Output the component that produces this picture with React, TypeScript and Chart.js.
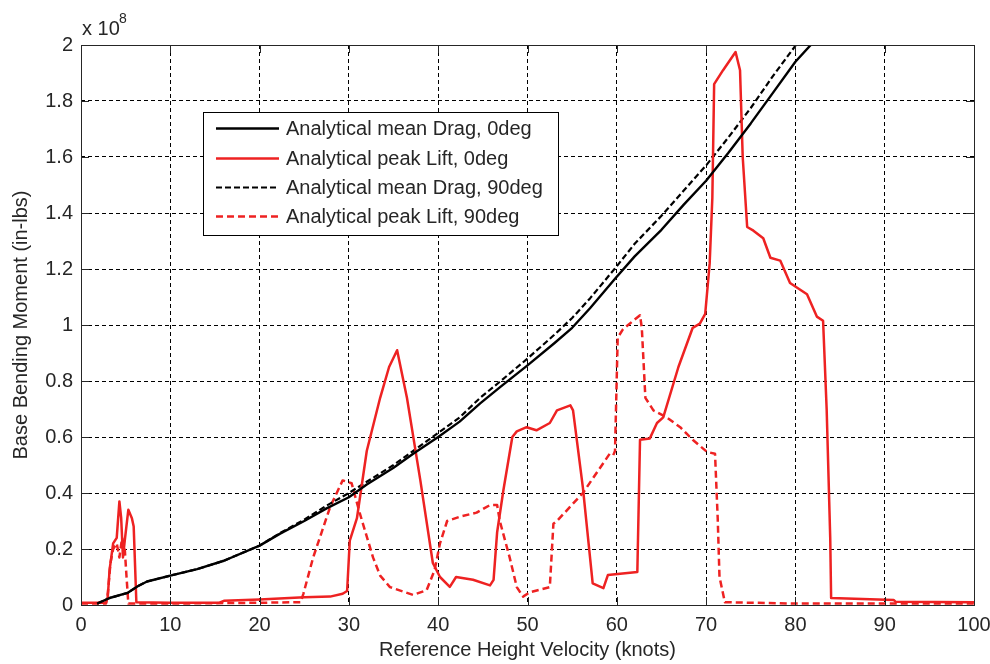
import React, { useEffect, useRef } from 'react';
import { Chart, registerables } from 'chart.js';

Chart.register(...registerables);

// Values are in units of 1e8 in-lbs (as shown by the "x 10^8" axis multiplier)
const xTickValues = [0, 10, 20, 30, 40, 50, 60, 70, 80, 90, 100];
const yTickValues = [0, 0.2, 0.4, 0.6, 0.8, 1, 1.2, 1.4, 1.6, 1.8, 2];

const seriesLabels = [
  'Analytical mean Drag, 0deg',
  'Analytical peak Lift, 0deg',
  'Analytical mean Drag, 90deg',
  'Analytical peak Lift, 90deg',
];

const meanDrag0: [number, number][] = [
  [1.8, 0.005], [3.2, 0.025], [5.2, 0.043], [6.4, 0.068], [7.4, 0.084], [10, 0.105],
  [13, 0.128], [16, 0.158], [20, 0.212], [22.3, 0.255], [25, 0.3], [27.5, 0.345],
  [30, 0.385], [32, 0.43], [35, 0.49], [37.2, 0.54], [40, 0.6], [42.4, 0.655],
  [44.7, 0.72], [47, 0.78], [50, 0.856], [53, 0.935], [55, 0.99], [57, 1.06],
  [59.8, 1.165], [62, 1.245], [65, 1.34], [67.5, 1.43], [70, 1.515], [72.5, 1.615],
  [75, 1.72], [77.5, 1.83], [80, 1.94], [82, 2.01],
];

const peakLift0: [number, number][] = [
  [0, 0.008], [2.8, 0.008], [3.0, 0.03], [3.2, 0.125], [3.6, 0.22], [4.0, 0.24],
  [4.3, 0.37], [4.5, 0.31], [4.7, 0.17], [4.9, 0.23], [5.3, 0.34], [5.7, 0.31],
  [5.9, 0.28], [6.2, 0.01], [10, 0.008], [15.5, 0.008], [16, 0.015], [20, 0.02],
  [25, 0.028], [27.9, 0.03], [29.3, 0.04], [29.8, 0.05], [30.1, 0.23], [30.9, 0.31],
  [32, 0.55], [33.5, 0.74], [34.5, 0.85], [35.4, 0.91], [36.5, 0.74], [38, 0.445], [39.4, 0.15],
  [40.2, 0.1], [41.3, 0.065], [42, 0.1], [43.9, 0.09], [45.8, 0.07], [46.2, 0.09],
  [46.6, 0.26], [47.3, 0.41], [48.3, 0.6], [48.8, 0.62], [49.9, 0.635], [51, 0.624],
  [52.5, 0.65], [53.3, 0.695], [54.8, 0.713], [55.1, 0.695], [56.2, 0.42], [57.3, 0.077],
  [58.5, 0.06], [59, 0.107], [62.3, 0.118], [62.6, 0.59], [63.7, 0.595], [64.5, 0.65],
  [65.2, 0.67], [66.9, 0.85], [68.5, 0.99], [69.3, 1.005], [69.9, 1.04], [70.4, 1.22],
  [70.7, 1.455], [70.9, 1.86], [71.9, 1.91], [73.3, 1.975], [73.8, 1.91], [74.1, 1.6],
  [74.6, 1.35], [75.3, 1.337], [76.4, 1.31], [77.2, 1.24], [78.3, 1.23], [79.4, 1.15],
  [81.3, 1.11], [82.4, 1.03], [83.1, 1.015], [83.5, 0.7], [83.9, 0.24], [84.0, 0.025],
  [91, 0.018], [91.2, 0.012], [100, 0.01],
];

const meanDrag90: [number, number][] = [
  [1.8, 0.005], [3.2, 0.025], [5.2, 0.043], [6.4, 0.068], [7.4, 0.084], [10, 0.105],
  [13, 0.128], [16, 0.158], [20, 0.212], [22.3, 0.257], [25, 0.305], [27.5, 0.355],
  [30, 0.4], [32, 0.44], [35, 0.5], [37.2, 0.55], [40, 0.615], [42.4, 0.67],
  [44.7, 0.74], [47, 0.8], [50, 0.88], [53, 0.965], [55, 1.025], [57, 1.095],
  [60, 1.21], [62, 1.29], [65, 1.39], [67.5, 1.48], [70, 1.57], [72.5, 1.67],
  [75, 1.775], [77.5, 1.89], [80.3, 2.01],
];

const peakLift90: [number, number][] = [
  [0, 0.005], [2.8, 0.005], [3.0, 0.04], [3.3, 0.15], [3.6, 0.2], [4.0, 0.22],
  [4.3, 0.17], [4.6, 0.24], [4.9, 0.2], [5.1, 0.1], [5.3, 0.005], [10, 0.005],
  [20, 0.008], [24.6, 0.01], [24.9, 0.04], [26, 0.17], [27.9, 0.35], [29.3, 0.445],
  [30.3, 0.435], [31.2, 0.33], [32.7, 0.17], [33.5, 0.105], [34.6, 0.064], [37.2, 0.036], [38.7, 0.053],
  [39.6, 0.125], [40.2, 0.22], [41, 0.3], [42.4, 0.315], [44.3, 0.33], [45.8, 0.357],
  [46.6, 0.357], [46.9, 0.3], [48, 0.17], [48.8, 0.064], [49.5, 0.03], [50.3, 0.046],
  [52.5, 0.064], [52.9, 0.29], [53.3, 0.3], [56.2, 0.4], [59.2, 0.54], [59.6, 0.535],
  [59.8, 0.55], [60.1, 0.955], [60.7, 0.985], [62.6, 1.035], [62.8, 0.99], [63.2, 0.74],
  [64.1, 0.695], [65.6, 0.67], [67.1, 0.635], [68.5, 0.59], [70.1, 0.547], [71, 0.54],
  [71.3, 0.31], [71.5, 0.1], [72.1, 0.01], [80, 0.005], [100, 0.005],
];

const RED = 'rgb(238,34,34)';
const INK = '#262626';
const FONT = '"Liberation Sans", Arial, sans-serif';

const seriesStyles = [
  { color: '#000000', width: 2.4, dash: [] as number[] },
  { color: RED, width: 2.5, dash: [] as number[] },
  { color: '#000000', width: 2.2, dash: [6, 3] },
  { color: RED, width: 2.5, dash: [7, 4] },
];

const decorPlugin = {
  id: 'decor',
  afterDraw(chart: any) {
    const { ctx, chartArea: a, scales } = chart;
    ctx.save();
    ctx.setLineDash([]);
    ctx.strokeStyle = INK;
    ctx.lineWidth = 1;
    const tl = 8;
    ctx.beginPath();
    for (const v of xTickValues) {
      const px = Math.round(scales.x.getPixelForValue(v)) + 0.5;
      ctx.moveTo(px, a.bottom); ctx.lineTo(px, a.bottom - tl);
      ctx.moveTo(px, a.top); ctx.lineTo(px, a.top + tl);
    }
    for (const v of yTickValues) {
      const py = Math.round(scales.y.getPixelForValue(v)) + 0.5;
      ctx.moveTo(a.left, py); ctx.lineTo(a.left + tl, py);
      ctx.moveTo(a.right, py); ctx.lineTo(a.right - tl, py);
    }
    ctx.stroke();
    ctx.strokeRect(Math.round(a.left) + 0.5, Math.round(a.top) + 0.5,
      Math.round(a.right - a.left), Math.round(a.bottom - a.top));

    // exponent label
    ctx.fillStyle = INK;
    ctx.textBaseline = 'alphabetic';
    ctx.textAlign = 'left';
    ctx.font = `20px ${FONT}`;
    ctx.fillText('x 10', a.left + 1, a.top - 10);
    ctx.font = `14px ${FONT}`;
    ctx.fillText('8', a.left + 38, a.top - 22);

    // legend
    const lx = a.left + 122, ly = a.top + 67, lw = 355, lh = 123;
    ctx.fillStyle = '#ffffff';
    ctx.fillRect(lx, ly, lw, lh);
    ctx.strokeStyle = '#000000';
    ctx.lineWidth = 1;
    ctx.strokeRect(lx + 0.5, ly + 0.5, lw, lh);
    const rowY = [16.5, 46.5, 75.5, 104.5];
    seriesLabels.forEach((label, i) => {
      const st = seriesStyles[i];
      const y = ly + rowY[i];
      ctx.strokeStyle = st.color;
      ctx.lineWidth = st.width;
      ctx.setLineDash(st.dash);
      ctx.beginPath();
      ctx.moveTo(lx + 13, y);
      ctx.lineTo(lx + 76, y);
      ctx.stroke();
      ctx.setLineDash([]);
      ctx.fillStyle = INK;
      ctx.font = `20px ${FONT}`;
      ctx.textBaseline = 'middle';
      ctx.fillText(label, lx + 83, y + 1);
    });
    ctx.restore();
  },
};

export default function App() {
  const ref = useRef<HTMLCanvasElement | null>(null);

  useEffect(() => {
    if (!ref.current) return;
    const toPts = (arr: [number, number][]) => arr.map(([x, y]) => ({ x, y }));
    const seriesData = [meanDrag0, peakLift0, meanDrag90, peakLift90];
    const chart = new Chart(ref.current, {
      type: 'line',
      data: {
        datasets: seriesData.map((d, i) => ({
          label: seriesLabels[i],
          data: toPts(d),
          borderColor: seriesStyles[i].color,
          borderWidth: seriesStyles[i].width,
          borderDash: seriesStyles[i].dash,
          pointRadius: 0,
          tension: 0,
          fill: false,
          borderJoinStyle: 'round' as const,
        })),
      },
      options: {
        responsive: false,
        animation: false,
        events: [],
        layout: { padding: { left: 0, right: 16, top: 45, bottom: 0 } },
        plugins: { legend: { display: false }, tooltip: { enabled: false } },
        scales: {
          x: {
            type: 'linear',
            min: 0,
            max: 100,
            afterFit: (s: any) => { s.height = 59; s.paddingLeft = 0; s.paddingRight = 0; },
            ticks: {
              stepSize: 10,
              padding: 8,
              color: INK,
              font: { family: FONT, size: 20 },
              maxRotation: 0,
            },
            grid: { color: '#000000', lineWidth: 1, drawTicks: false },
            border: { display: false, dash: [4, 3] },
            title: {
              display: true,
              text: 'Reference Height Velocity (knots)',
              color: INK,
              font: { family: FONT, size: 20 },
              padding: { top: 0, bottom: 2 },
            },
          },
          y: {
            type: 'linear',
            min: 0,
            max: 2,
            afterFit: (s: any) => { s.width = 81; s.paddingTop = 0; s.paddingBottom = 0; },
            ticks: {
              stepSize: 0.2,
              padding: 8,
              color: INK,
              font: { family: FONT, size: 20 },
              callback: (v: any) => String(Math.round(Number(v) * 10) / 10),
            },
            grid: { color: '#000000', lineWidth: 1, drawTicks: false },
            border: { display: false, dash: [4, 3] },
            title: {
              display: true,
              text: 'Base Bending Moment (in-lbs)',
              color: INK,
              font: { family: FONT, size: 20 },
              padding: { top: 9, bottom: 0 },
            },
          },
        },
      },
      plugins: [decorPlugin],
    } as any);
    return () => chart.destroy();
  }, []);

  return (
    <div style={{ position: 'absolute', left: 0, top: 0, width: 990, height: 664, background: '#fff' }}>
      <canvas ref={ref} width={990} height={664} />
    </div>
  );
}
